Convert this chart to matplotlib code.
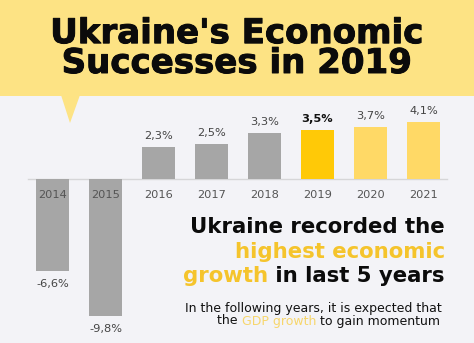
import matplotlib.pyplot as plt
import matplotlib.patheffects as pe
from matplotlib.patches import Polygon, Rectangle
from matplotlib.text import Annotation

years = ["2014", "2015", "2016", "2017", "2018", "2019", "2020", "2021"]
growth = [-6.6, -9.8, 2.3, 2.5, 3.3, 3.5, 3.7, 4.1]
labels = ["-6,6%", "-9,8%", "2,3%", "2,5%", "3,3%", "3,5%", "3,7%", "4,1%"]
bar_colors = ["#a6a6a6"] * 5 + ["#ffc907", "#ffd966", "#ffd966"]

W, H = 474, 343
BG = "#f3f3f7"
HEADER = "#fde384"
GOLD = "#f5c42c"
INK = "#0b0b0b"
FONT = "DejaVu Sans"


def fx(px):
    return px / W


def fy(py):
    return 1 - py / H


def heavy(color, lw):
    return [pe.withStroke(linewidth=lw, foreground=color)]


fig = plt.figure(figsize=(W / 100, H / 100), dpi=100, facecolor=BG)

# yellow header band with a pointer
fig.patches.append(Rectangle((0, fy(96)), 1, 1 - fy(96), transform=fig.transFigure,
                             facecolor=HEADER, edgecolor="none", zorder=0))
fig.patches.append(Polygon([(fx(61), fy(95)), (fx(80), fy(95)), (fx(70), fy(123))],
                           transform=fig.transFigure, facecolor=HEADER,
                           edgecolor="none", zorder=0))

fig.text(0.5, fy(73), "Ukraine's Economic\nSuccesses in 2019", ha="center",
         va="baseline", multialignment="center", linespacing=0.88,
         fontsize=24.5, fontweight="bold", family=FONT, color=INK,
         path_effects=heavy(INK, 0.7))

# bar chart: 53 px per bar slot, 14 px per percentage point
ax = fig.add_axes([fx(26), 3 / H, 424 / W, 245 / H])
ax.set_xlim(-0.5, 7.5)
ax.set_ylim(-11.5, 6)
ax.axis("off")

x = range(len(years))
ax.bar(x, growth, width=0.64, color=bar_colors, zorder=2)
ax.plot([-0.46, 7.44], [0, 0], color="#d6d6d8", lw=1, zorder=1)

for i, (yr, val, lab) in enumerate(zip(years, growth, labels)):
    ax.text(i, -1.15, yr, ha="center", va="center", fontsize=8.2,
            family=FONT, color="#555555", zorder=3)
    off = 11 if val > 0 else -13
    ax.annotate(lab, (i, val), xytext=(0, off), textcoords="offset pixels",
                ha="center", va="center", fontsize=8.2, family=FONT,
                color="#111111" if yr == "2019" else "#444444",
                fontweight="bold" if yr == "2019" else "normal")

# headline on the right
big = dict(fontsize=15.3, fontweight="bold", family=FONT)
fig.text(fx(445), fy(233), "Ukraine recorded the", ha="right", va="baseline",
         color=INK, **big)
fig.text(fx(445), fy(258), "highest economic", ha="right", va="baseline",
         color=GOLD, **big)
tail = fig.text(fx(445), fy(282), " in last 5 years", ha="right", va="baseline",
                color=INK, **big)
fig.add_artist(Annotation("growth", (0, 0), xycoords=tail, ha="right",
                          va="bottom", color=GOLD, **big))

small = dict(fontsize=9, family=FONT)
fig.text(fx(442), fy(312), "In the following years, it is expected that",
         ha="right", va="baseline", color="#111111", **small)
end = fig.text(fx(440), fy(324.5), " to gain momentum", ha="right",
               va="baseline", color="#111111", **small)
gdp = fig.add_artist(Annotation("GDP growth", (0, 0), xycoords=end, ha="right",
                                va="bottom", color="#f7d66c", **small))
fig.add_artist(Annotation("the ", (0, 0), xycoords=gdp, ha="right",
                          va="bottom", color="#111111", **small))

fig.savefig("out.png", dpi=100, facecolor=BG)
